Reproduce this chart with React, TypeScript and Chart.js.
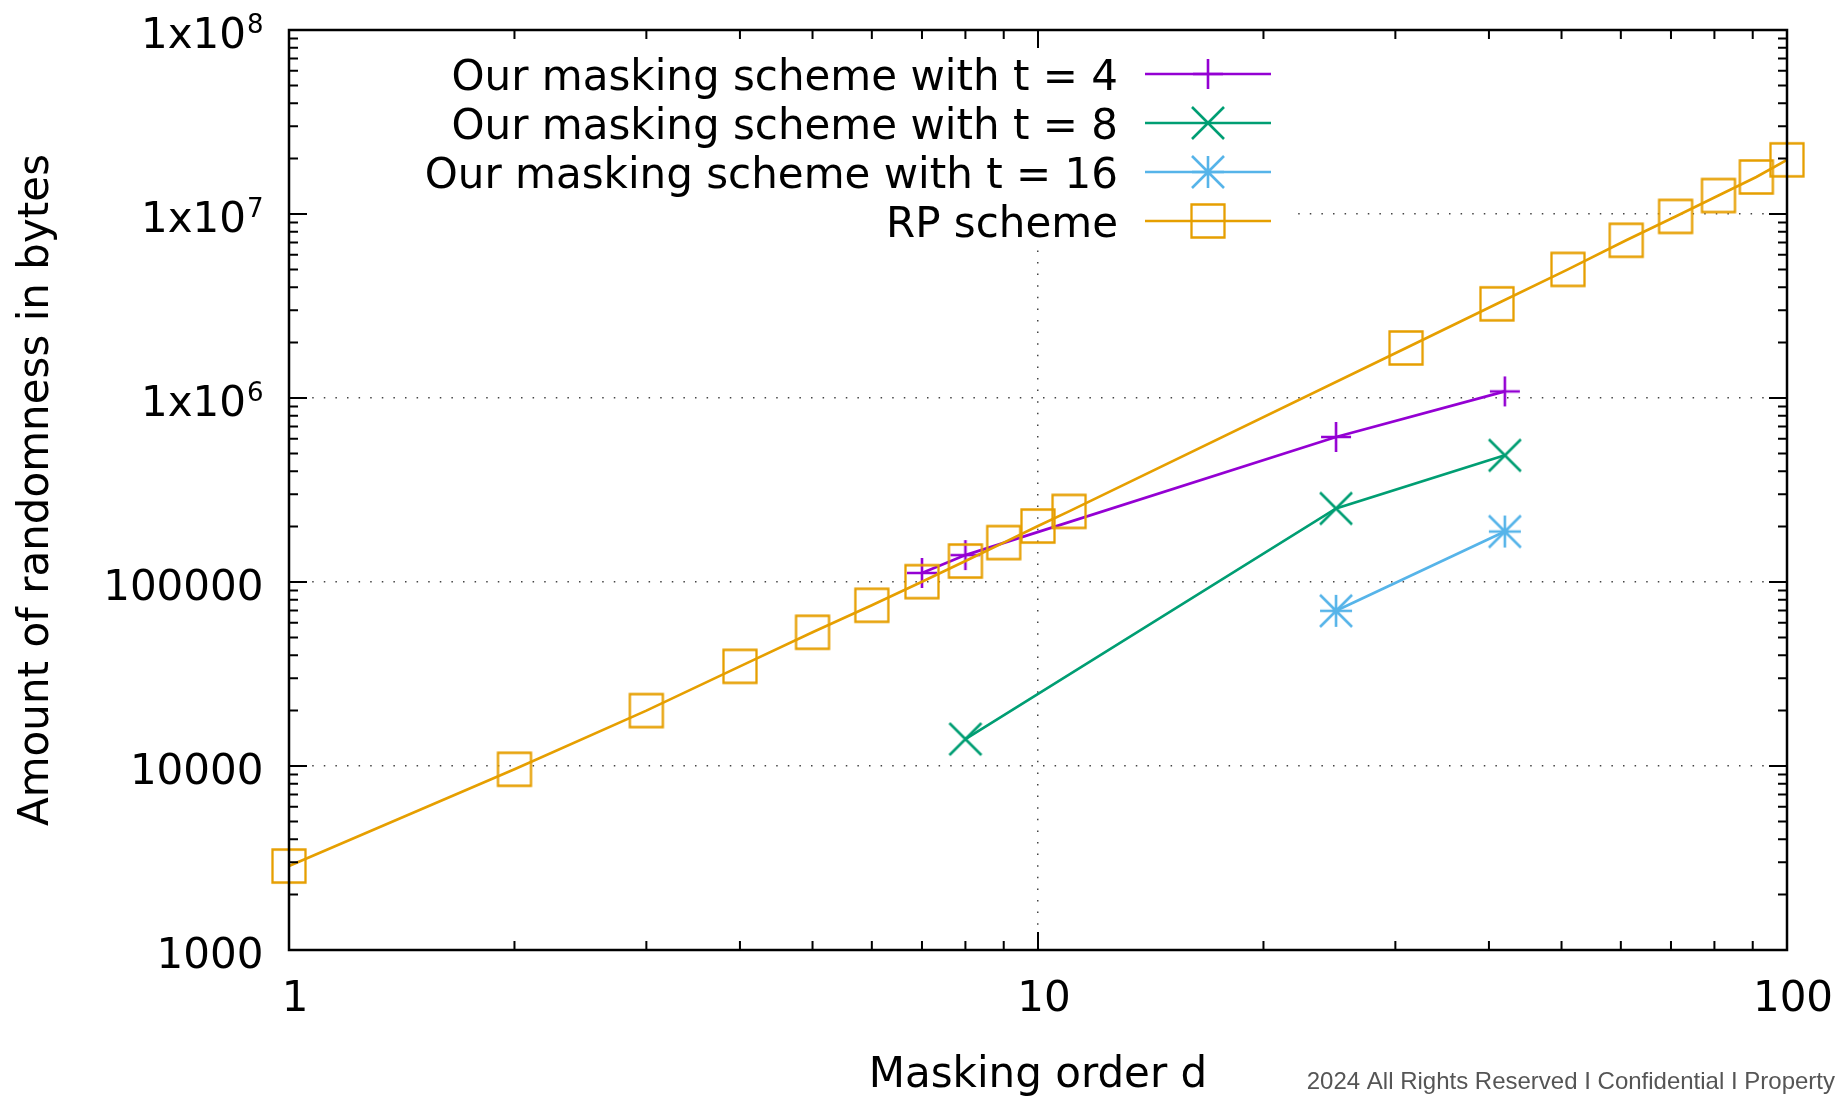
import React, { useEffect, useRef } from 'react';
import { Chart, registerables } from 'chart.js';

Chart.register(...registerables);

const FONT = "'DejaVu Sans', sans-serif";

// ---- data ----
const seriesLabels = [
  'Our masking scheme with t = 4',
  'Our masking scheme with t = 8',
  'Our masking scheme with t = 16',
  'RP scheme',
];

const t4Order = [7, 8, 25, 42];
const t4Bytes = [112000, 140000, 614000, 1086000];

const t8Order = [8, 25, 42];
const t8Bytes = [14000, 251000, 488000];

const t16Order = [25, 42];
const t16Bytes = [69700, 188000];

const rpOrder = [1, 2, 3, 4, 5, 6, 7, 8, 9, 10, 11, 31, 41, 51, 61, 71, 81, 91, 100];
const rpBytes = [
  2860, 9600, 20000, 34800, 53300, 74700, 100400, 130000, 163700, 201500, 242000,
  1870000, 3250000, 5000000, 7200000, 9700000, 12600000, 15900000, 19700000,
];

const xTickValues = [1, 10, 100];
const xTickLabels = ['1', '10', '100'];
const yTickValues = [1e3, 1e4, 1e5, 1e6, 1e7, 1e8];
const yTickBase = ['1000', '10000', '100000', '1x10', '1x10', '1x10'];
const yTickExp = ['', '', '', '6', '7', '8'];

const xTitle = 'Masking order d';
const yTitle = 'Amount of randomness in bytes';
const watermark = '2024 All Rights Reserved I Confidential I Property';

const COLORS = ['#9400d3', '#009e73', '#56b4e9', '#e69f00'];
const MARKERS = ['plus', 'cross', 'star', 'square'];

function makeMarker(kind: string, color: string): HTMLCanvasElement {
  const s = 44;
  const c = document.createElement('canvas');
  c.width = s;
  c.height = s;
  const g = c.getContext('2d')!;
  g.strokeStyle = color;
  g.lineWidth = kind === 'square' ? 2.3 : 2.6;
  g.translate(s / 2, s / 2);
  g.beginPath();
  if (kind === 'plus' || kind === 'star') {
    const r = kind === 'plus' ? 15 : 16;
    g.moveTo(-r, 0);
    g.lineTo(r, 0);
    g.moveTo(0, -r);
    g.lineTo(0, r);
  }
  if (kind === 'cross' || kind === 'star') {
    const r = 16;
    g.moveTo(-r, -r);
    g.lineTo(r, r);
    g.moveTo(-r, r);
    g.lineTo(r, -r);
  }
  if (kind === 'square') {
    g.rect(-16.5, -16.5, 33, 33);
  }
  g.stroke();
  return c;
}

function toPoints(xs: number[], ys: number[]) {
  return xs.map((x, i) => ({ x, y: ys[i] }));
}

export default function App() {
  const ref = useRef<HTMLCanvasElement>(null);

  useEffect(() => {
    const canvas = ref.current!;
    const markers = MARKERS.map((m, i) => makeMarker(m, COLORS[i]));

    const legendRows = [74, 123, 172, 221];

    const framePlugin = {
      id: 'gnuplotFrame',
      beforeDatasetsDraw(chart: any) {
        const { ctx, chartArea: a } = chart;
        ctx.save();
        ctx.fillStyle = '#ffffff';
        ctx.fillRect(a.left + 1, a.top + 1, 1297 - a.left, 248 - a.top);
        ctx.restore();
      },
      afterDraw(chart: any) {
        const { ctx, chartArea: a } = chart;
        const xs = chart.scales.x;
        const ys = chart.scales.y;
        ctx.save();
        ctx.strokeStyle = '#000';
        ctx.lineWidth = 2;
        ctx.beginPath();
        // y ticks (major + minor), mirrored
        for (let e = 3; e <= 8; e++) {
          for (let k = 1; k <= 9; k++) {
            const v = k * Math.pow(10, e);
            if (v > 1e8) break;
            const py = ys.getPixelForValue(v);
            const len = k === 1 ? 18 : 9;
            ctx.moveTo(a.left, py);
            ctx.lineTo(a.left + len, py);
            ctx.moveTo(a.right, py);
            ctx.lineTo(a.right - len, py);
          }
        }
        // x ticks (major + minor), mirrored
        for (let e = 0; e <= 2; e++) {
          for (let k = 1; k <= 9; k++) {
            const v = k * Math.pow(10, e);
            if (v > 100) break;
            const px = xs.getPixelForValue(v);
            const len = k === 1 ? 18 : 9;
            ctx.moveTo(px, a.bottom);
            ctx.lineTo(px, a.bottom - len);
            ctx.moveTo(px, a.top);
            ctx.lineTo(px, a.top + len);
          }
        }
        ctx.stroke();
        ctx.lineWidth = 2.5;
        ctx.strokeRect(a.left, a.top, a.right - a.left, a.bottom - a.top);

        // y tick labels with superscripts
        ctx.fillStyle = '#000';
        ctx.textBaseline = 'alphabetic';
        ctx.textAlign = 'right';
        const rightX = 263.5;
        yTickValues.forEach((v, i) => {
          const py = ys.getPixelForValue(v);
          const base = py + 18;
          let bx = rightX;
          if (yTickExp[i]) {
            ctx.font = `26px ${FONT}`;
            const w = ctx.measureText(yTickExp[i]).width;
            ctx.fillText(yTickExp[i], rightX, base - 15);
            bx = rightX - w - 1;
          }
          ctx.font = `42px ${FONT}`;
          ctx.fillText(yTickBase[i], bx, base);
        });

        // legend
        ctx.font = `42px ${FONT}`;
        ctx.textAlign = 'right';
        seriesLabels.forEach((label, i) => {
          const ry = legendRows[i];
          ctx.fillStyle = '#000';
          ctx.fillText(label, 1118, ry + 15.5);
          ctx.strokeStyle = COLORS[i];
          ctx.lineWidth = 2.7;
          ctx.beginPath();
          ctx.moveTo(1145, ry);
          ctx.lineTo(1271, ry);
          ctx.stroke();
          const m = markers[i];
          ctx.drawImage(m, 1208 - m.width / 2, ry - m.height / 2);
        });

        // watermark
        ctx.font = `24px 'Liberation Sans', Arial, sans-serif`;
        ctx.fillStyle = '#555';
        ctx.textAlign = 'right';
        ctx.fillText(watermark, 1835, 1089);
        ctx.restore();
      },
    };

    const mkDs = (i: number, xs: number[], ysv: number[], order: number, clip: any) => ({
      label: seriesLabels[i],
      data: toPoints(xs, ysv),
      borderColor: COLORS[i],
      backgroundColor: COLORS[i],
      borderWidth: 2.7,
      pointStyle: markers[i],
      pointRadius: 16,
      pointHoverRadius: 16,
      tension: 0,
      fill: false,
      order,
      clip,
    });

    const chart = new Chart(canvas, {
      type: 'line',
      data: {
        datasets: [
          mkDs(0, t4Order, t4Bytes, 3, undefined),
          mkDs(1, t8Order, t8Bytes, 2, undefined),
          mkDs(2, t16Order, t16Bytes, 1, undefined),
          mkDs(3, rpOrder, rpBytes, 0, false),
        ],
      },
      options: {
        animation: false,
        responsive: false,
        devicePixelRatio: 1,
        events: [],
        layout: { autoPadding: false, padding: { top: 30, right: 52, left: 0, bottom: 0 } },
        plugins: {
          legend: { display: false },
          tooltip: { enabled: false },
        },
        scales: {
          x: {
            type: 'logarithmic',
            position: 'bottom',
            min: 1,
            max: 100,
            afterBuildTicks: (scale: any) => {
              scale.ticks = xTickValues.map((v) => ({ value: v, major: true }));
            },
            afterFit: (scale: any) => {
              scale.height = 147;
              scale.paddingLeft = 0;
              scale.paddingRight = 0;
            },
            ticks: {
              autoSkip: false,
              maxRotation: 0,
              padding: 25,
              labelOffset: 6,
              color: '#000',
              font: { family: FONT, size: 42 },
              callback: (_v: any, i: number) => xTickLabels[i],
            },
            grid: {
              drawTicks: false,
              lineWidth: 1.5,
              color: (c: any) =>
                c.tick && (c.tick.value === 1 || c.tick.value === 100) ? 'rgba(0,0,0,0)' : '#444',
            },
            border: { display: false, dash: [1.5, 10.1] },
            title: {
              display: true,
              text: xTitle,
              color: '#000',
              font: { family: FONT, size: 42, lineHeight: 1.0 },
              padding: { top: 0, bottom: 0 },
            },
          },
          y: {
            type: 'logarithmic',
            position: 'left',
            min: 1000,
            max: 1e8,
            afterBuildTicks: (scale: any) => {
              scale.ticks = yTickValues.map((v) => ({ value: v, major: true }));
            },
            afterFit: (scale: any) => {
              scale.width = 289;
              scale.paddingTop = 0;
              scale.paddingBottom = 0;
            },
            ticks: { display: false },
            grid: {
              drawTicks: false,
              lineWidth: 1.5,
              color: (c: any) =>
                c.tick && (c.tick.value === 1000 || c.tick.value === 1e8) ? 'rgba(0,0,0,0)' : '#444',
            },
            border: { display: false, dash: [1.5, 10.1] },
            title: {
              display: true,
              text: yTitle,
              color: '#000',
              font: { family: FONT, size: 42 },
              padding: { top: 12, bottom: 0 },
            },
          },
        },
      } as any,
      plugins: [framePlugin],
    });

    return () => chart.destroy();
  }, []);

  return (
    <div style={{ position: 'fixed', left: 0, top: 0, width: 1839, height: 1097, background: '#fff' }}>
      <canvas ref={ref} width={1839} height={1097} style={{ display: 'block', width: 1839, height: 1097 }} />
    </div>
  );
}
